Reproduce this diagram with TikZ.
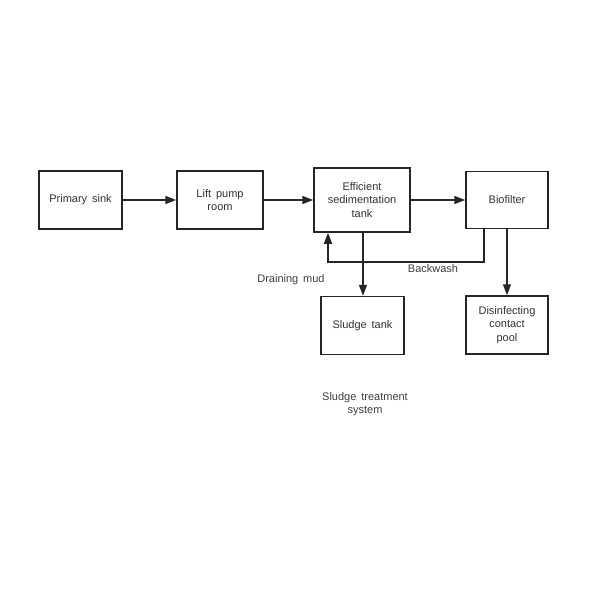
\documentclass[tikz,border=0pt]{standalone}
\usepackage{fontspec}
\setmainfont{Liberation Sans}
\usetikzlibrary{arrows.meta,calc}
\begin{document}
\begin{tikzpicture}[x=1pt,y=-1pt,
  box/.style={draw=black!85,line width=1.5pt,minimum width=#1,inner sep=2pt,align=center,text=black!80,font=\fontsize{11}{13.5}\selectfont},
  lbl/.style={font=\fontsize{11}{13}\selectfont,text=black!75,align=center},
  arr/.style={draw=black!85,line width=1.5pt,-{Triangle[length=11pt,width=8pt]}},
  ln/.style={draw=black!85,line width=1.5pt}]
\useasboundingbox[fill=white] (0,0) rectangle (600,600);
\node[box=83pt,minimum height=58pt] (ps) at (80.5,200) {Primary\, sink};
\node[box=86pt,minimum height=58pt] (lp) at (220,200) {Lift\, pump\\room};
\node[box=96pt,minimum height=64pt] (est) at (362,200) {Efficient\\sedimentation\\tank};
\node[box=82pt,minimum height=57pt] (bf) at (507,200) {Biofilter};
\node[box=83pt,minimum height=58pt] (st) at (362.5,325.5) {Sludge\, tank};
\node[box=82pt,minimum height=58pt] (dc) at (507,325) {Disinfecting\\contact\\pool};
\coordinate (stx) at (363,0);
\coordinate (bwx) at (484,0);
\coordinate (bwc) at (328,262);
\draw[arr] (ps) -- (lp);
\draw[arr] (lp) -- (est);
\draw[arr] (est) -- (bf);
\draw[arr] (est.south -| stx) -- (st.north -| stx);
\draw[arr] (bf) -- (dc);
\draw[arr] (bf.south -| bwx) |- (bwc) -- (est.south -| bwc);
\node[lbl] (dm) at (291,280) {Draining\, mud};
\node[lbl] (bw) at (433,269) {Backwash};
\node[lbl] (sts) at (365,404) {Sludge\, treatment\\system};
\end{tikzpicture}
\end{document}
